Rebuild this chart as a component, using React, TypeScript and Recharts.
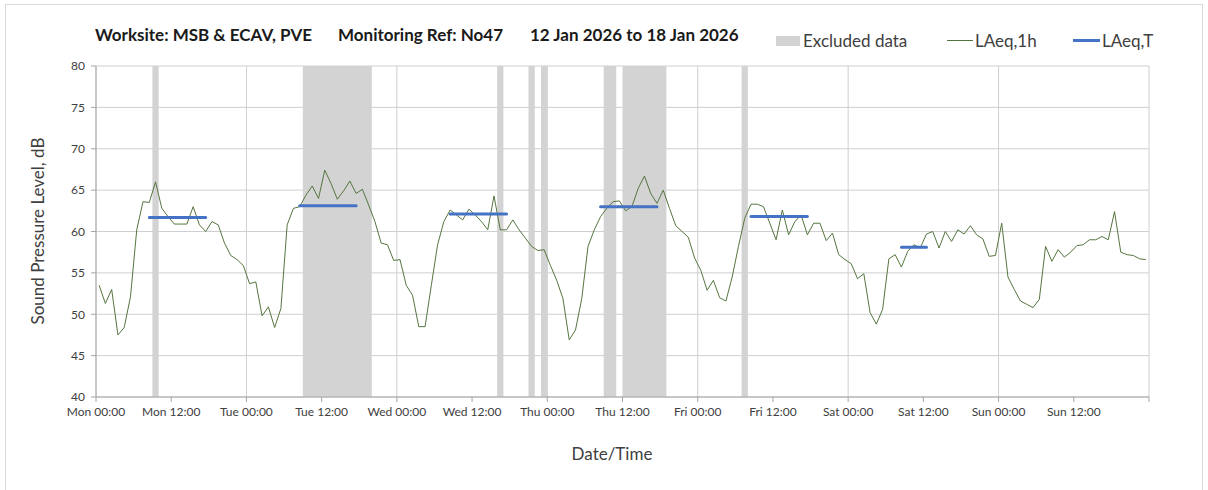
import React from 'react'
import { ComposedChart, Line, XAxis, YAxis, CartesianGrid, ReferenceArea } from 'recharts'

const dayNames = ['Mon', 'Tue', 'Wed', 'Thu', 'Fri', 'Sat', 'Sun']
const xTicks = [0, 12, 24, 36, 48, 60, 72, 84, 96, 108, 120, 132, 144, 156, 168]
const dayLines = [0, 24, 48, 72, 96, 120, 144, 168]
const yTicks = [40, 45, 50, 55, 60, 65, 70, 75, 80]

// hourly LAeq,1h, Mon 00:00 .. Sun 23:00
const laeq1h = [
  53.5, 51.3, 53.0, 47.5, 48.4, 52.1, 60.2, 63.6, 63.5, 66.0, 62.8, 61.8,
  60.9, 60.9, 60.9, 63.0, 60.8, 60.0, 61.2, 60.8, 58.6, 57.1, 56.6, 55.9,
  53.7, 53.9, 49.8, 50.9, 48.4, 50.7, 60.8, 62.8, 63.0, 64.4, 65.5, 64.0,
  67.4, 65.8, 63.9, 64.9, 66.1, 64.6, 65.1, 63.2, 61.2, 58.6, 58.4, 56.5,
  56.6, 53.5, 52.3, 48.5, 48.5, 53.5, 58.4, 61.2, 62.6, 62.0, 61.4, 62.7,
  62.0, 61.2, 60.2, 64.3, 60.2, 60.2, 61.4, 60.2, 59.2, 58.2, 57.7, 57.8,
  55.9, 54.1, 51.9, 46.9, 48.1, 51.9, 58.2, 60.2, 61.8, 62.8, 63.6, 63.7,
  62.5, 63.0, 65.2, 66.7, 64.6, 63.4, 65.0, 62.8, 60.7, 60.0, 59.3, 56.8,
  55.3, 52.9, 54.1, 52.0, 51.6, 54.5, 58.2, 61.6, 63.3, 63.3, 63.0, 61.0,
  59.0, 62.6, 59.6, 61.2, 62.0, 59.6, 61.0, 61.0, 58.9, 59.8, 57.2, 56.6,
  56.1, 54.3, 54.9, 50.2, 48.8, 50.6, 56.7, 57.2, 55.7, 57.6, 58.4, 58.0,
  59.7, 60.0, 58.0, 60.0, 58.8, 60.2, 59.7, 60.7, 59.6, 59.1, 57.0, 57.1,
  61.0, 54.5, 53.0, 51.6, 51.2, 50.8, 51.8, 58.2, 56.4, 57.8, 56.9, 57.5,
  58.3, 58.4, 59.0, 59.0, 59.4, 59.0, 62.4, 57.5, 57.2, 57.1, 56.7, 56.6
]

// excluded periods, hours from Mon 00:00
const excludedFrom = [9, 33, 64, 69, 71, 81, 84, 103]
const excludedTo = [10, 44, 65, 70, 72, 83, 91, 104]

// LAeq,T periods (first and last hour) and levels
const periodFrom = [8, 32, 56, 80, 104, 128]
const periodTo = [17, 41, 65, 89, 113, 132]
const laeqT = [61.7, 63.1, 62.1, 63.0, 61.8, 58.1]

const rows = laeq1h.map((v, i) => {
  const p = periodFrom.findIndex((f, k) => i >= f && i <= periodTo[k])
  return { t: i + 0.5, laeq1h: v, laeqT: p >= 0 ? laeqT[p] : null }
})

const fontFamily = 'Lato, "Open Sans", sans-serif'

const formatTick = (h: number) => {
  if (h >= 168) return ''
  const day = dayNames[Math.floor(h / 24)]
  return `${day} ${h % 24 === 0 ? '00' : '12'}:00`
}

const titleStyle: React.CSSProperties = {
  position: 'absolute', top: 24, fontSize: 17, fontWeight: 700, color: '#1a1a1a', whiteSpace: 'nowrap'
}
const legendText: React.CSSProperties = {
  position: 'absolute', top: 30, fontSize: 17, color: '#404040', whiteSpace: 'nowrap'
}

export default function App() {
  return (
    <div style={{ position: 'absolute', left: 0, top: 0, width: 1208, height: 490, background: '#fff', fontFamily }}>
      <div style={{ position: 'absolute', left: 5, top: 4, width: 1196, height: 500, border: '1px solid #d9d9d9' }} />

      {/* title */}
      <div style={{ ...titleStyle, left: 95 }}>Worksite: MSB &amp; ECAV, PVE</div>
      <div style={{ ...titleStyle, left: 338 }}>Monitoring Ref: No47</div>
      <div style={{ ...titleStyle, left: 530 }}>12 Jan 2026 to 18 Jan 2026</div>

      {/* legend */}
      <div style={{ position: 'absolute', left: 776, top: 36, width: 24, height: 10, background: '#d3d3d3' }} />
      <div style={{ ...legendText, left: 803 }}>Excluded data</div>
      <div style={{ position: 'absolute', left: 947, top: 40, width: 26, height: 1, background: '#55753f' }} />
      <div style={{ ...legendText, left: 975 }}>LAeq,1h</div>
      <div style={{ position: 'absolute', left: 1073, top: 39, width: 27, height: 3, background: '#4472c4' }} />
      <div style={{ ...legendText, left: 1102 }}>LAeq,T</div>

      {/* axis titles */}
      <div style={{ position: 'absolute', left: 37, top: 231, transform: 'translate(-50%, -50%) rotate(-90deg)', fontSize: 17, color: '#404040', whiteSpace: 'nowrap' }}>
        Sound Pressure Level, dB
      </div>
      <div style={{ position: 'absolute', left: 612, top: 453, transform: 'translate(-50%, -50%)', fontSize: 17, color: '#404040', whiteSpace: 'nowrap' }}>
        Date/Time
      </div>

      <div style={{ position: 'absolute', left: 0, top: 0 }}>
        <ComposedChart width={1208} height={490} data={rows} margin={{ top: 66, right: 59, bottom: 0, left: 36 }}>
          {excludedFrom.map((f, k) => (
            <ReferenceArea key={k} x1={f} x2={excludedTo[k]} fill="#d3d3d3" fillOpacity={1} stroke="none" ifOverflow="hidden" />
          ))}
          <CartesianGrid stroke="#cfcfcf" verticalValues={dayLines} horizontalValues={yTicks} />
          <XAxis
            dataKey="t"
            type="number"
            domain={[0, 168]}
            ticks={xTicks}
            tickFormatter={formatTick}
            interval={0}
            height={93}
            stroke="#a6a6a6"
            tickSize={5}
            tickMargin={5}
            tick={{ fill: '#404040', fontSize: 12, fontFamily }}
          />
          <YAxis
            type="number"
            domain={[40, 80]}
            ticks={yTicks}
            width={60}
            stroke="#a6a6a6"
            tickSize={5}
            tickMargin={6}
            tick={{ fill: '#404040', fontSize: 12, fontFamily }}
          />
          <Line
            dataKey="laeq1h"
            stroke="#55753f"
            strokeWidth={1}
            dot={false}
            isAnimationActive={false}
          />
          <Line
            dataKey="laeqT"
            stroke="#4472c4"
            strokeWidth={3}
            strokeLinecap="round"
            dot={false}
            connectNulls={false}
            isAnimationActive={false}
          />
        </ComposedChart>
      </div>
    </div>
  )
}
